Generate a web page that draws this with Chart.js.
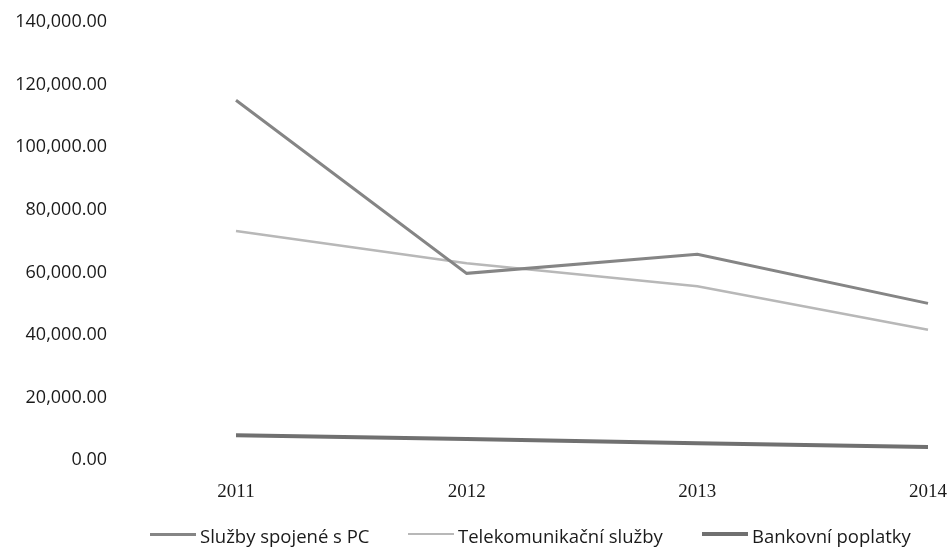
<!DOCTYPE html>
<html>
<head>
<meta charset="utf-8">
<script src="https://cdn.jsdelivr.net/npm/chart.js@4"></script>
<style>
  html, body { margin: 0; padding: 0; background: #fff; }
  #wrap { width: 948px; height: 554px; position: relative; }
  .legend-item {
    position: absolute;
    top: 522px;
    height: 26px;
    display: flex;
    align-items: center;
    font-family: 'Open Sans', sans-serif;
    font-size: 18.5px;
    color: #1a1a1a;
    white-space: nowrap;
  }
  .legend-item span.swatch {
    display: inline-block;
    width: 46px;
    margin-right: 4px;
    margin-top: -2px;
  }
</style>
</head>
<body>
<div id="wrap">
  <canvas id="chart"></canvas>
  <div id="legend"></div>
</div>
<script>
// Years on the x axis
const years = ['2011', '2012', '2013', '2014'];

// Series values
const sluzbyPC = [115000, 59700, 65800, 50100];
const telekom = [73200, 62900, 55600, 41700];
const bankovni = [8000, 6800, 5400, 4200];

// Y axis ticks
const yMin = 0;
const yMax = 140000;
const yStep = 20000;

const fontFamily = "'Open Sans', sans-serif";

const datasets = [{
    label: 'Služby spojené s PC',
    data: sluzbyPC,
    borderColor: '#858585',
    borderWidth: 3,
    pointRadius: 0,
    tension: 0
}, {
    label: 'Telekomunikační služby',
    data: telekom,
    borderColor: '#b8b8b8',
    borderWidth: 2.5,
    pointRadius: 0,
    tension: 0
}, {
    label: 'Bankovní poplatky',
    data: bankovni,
    borderColor: '#707070',
    borderWidth: 4,
    pointRadius: 0,
    tension: 0
}];

const ctx = document.getElementById('chart').getContext('2d');
new Chart(ctx, {
    type: 'line',
    data: {
        labels: years,
        datasets: datasets
    },
    options: {
        responsive: true,
        maintainAspectRatio: false,
        animation: false,
        layout: {
            padding: { top: 22, right: 20, left: 0, bottom: 39 }
        },
        scales: {
            x: {
                offset: false,
                afterFit: function(scale) {
                    // let the last year sit near the right edge like the original
                    scale.paddingLeft = 0;
                    scale.paddingRight = 0;
                },
                grid: { display: false },
                border: { display: false },
                ticks: {
                    padding: 12,
                    color: '#1a1a1a',
                    font: { family: "'Liberation Serif', serif", size: 19 }
                }
            },
            y: {
                min: yMin,
                max: yMax,
                afterFit: function(scale) {
                    // wide gap between labels and plot, without the tick padding leaking into top/bottom
                    scale.width = 236;
                    scale.paddingTop = 10;
                    scale.paddingBottom = 10;
                },
                grid: { display: false, drawTicks: false },
                border: { display: false },
                ticks: {
                    stepSize: yStep,
                    padding: 129,
                    color: '#1a1a1a',
                    font: { family: fontFamily, size: 18 },
                    callback: function(value) {
                        return value.toLocaleString('en-US', { minimumFractionDigits: 2, maximumFractionDigits: 2 });
                    }
                }
            }
        },
        plugins: {
            legend: { display: false },
            tooltip: { enabled: false }
        }
    }
});

// Legend drawn below the chart, one item per dataset
const legendLefts = [150, 408, 702];
const legendEl = document.getElementById('legend');
datasets.forEach(function(ds, i) {
    const item = document.createElement('div');
    item.className = 'legend-item';
    item.style.left = legendLefts[i] + 'px';
    const swatch = document.createElement('span');
    swatch.className = 'swatch';
    swatch.style.borderTop = ds.borderWidth + 'px solid ' + ds.borderColor;
    const text = document.createElement('span');
    text.textContent = ds.label;
    item.appendChild(swatch);
    item.appendChild(text);
    legendEl.appendChild(item);
});
</script>
</body>
</html>
